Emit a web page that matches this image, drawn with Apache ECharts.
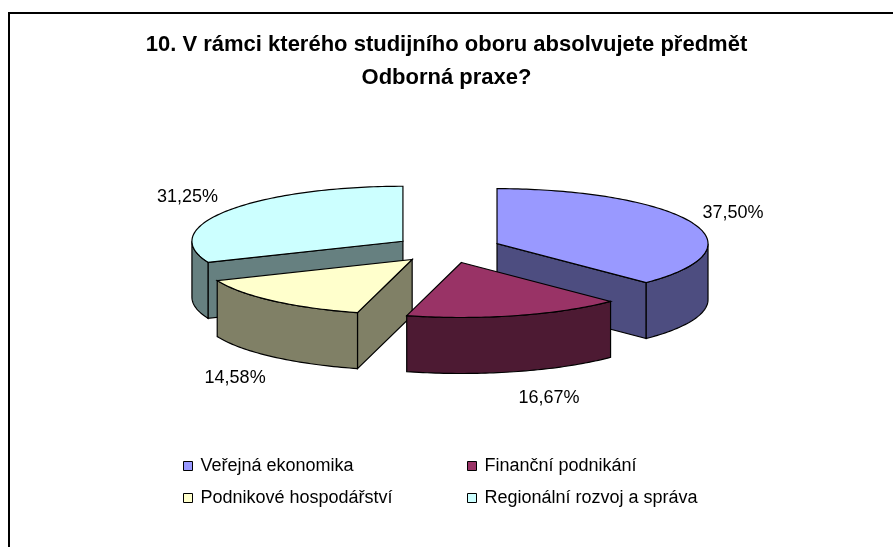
<!DOCTYPE html>
<html>
<head>
<meta charset="utf-8">
<script src="https://cdn.jsdelivr.net/npm/echarts@6.0.0/dist/echarts.min.js"></script>
<style>
html, body { margin: 0; padding: 0; background: #fff; }
#container { width: 893px; height: 547px; }
</style>
</head>
<body>
<div id="container"></div>
<script>
var categories = ['Veřejná ekonomika', 'Finanční podnikání', 'Podnikové hospodářství', 'Regionální rozvoj a správa'];
var values = [37.50, 16.67, 14.58, 31.25];
var topColors = ['#9999FF', '#993366', '#FFFFCC', '#CCFFFF'];
var sideColors = ['#4D4D80', '#4D1A33', '#808066', '#668080'];

var dom = document.getElementById('container');
var myChart = echarts.init(dom);

// 3D pie geometry (Excel style, exploded)
var cx = 447.5, cy = 249, rx = 211, ry = 55, depth = 56, explode = 0.254;
var total = values.reduce(function (a, b) { return a + b; }, 0);
var fontFamily = '"Liberation Sans", Arial, sans-serif';

function sliceAngles(i) {
    var before = 0;
    for (var k = 0; k < i; k++) before += values[k];
    var s = before / total * Math.PI * 2;
    var e = (before + values[i]) / total * Math.PI * 2;
    return [s, e, (s + e) / 2];
}

function rim(ox, oy, a, dy) {
    return [ox + rx * Math.sin(a), oy - ry * Math.cos(a) + (dy || 0)];
}

function arc(ox, oy, a0, a1, dy) {
    var pts = [];
    var n = Math.max(2, Math.ceil((a1 - a0) / 0.02));
    for (var k = 0; k <= n; k++) {
        pts.push(rim(ox, oy, a0 + (a1 - a0) * k / n, dy));
    }
    return pts;
}

function makeRender(i) {
    return function (params, api) {
        var ang = sliceAngles(i);
        var s = ang[0], e = ang[1], m = ang[2];
        var ox = cx + rx * explode * Math.sin(m);
        var oy = cy - ry * explode * Math.cos(m);
        var line = { stroke: '#000', lineWidth: 1.2 };
        var children = [];

        // radial face at start angle
        if (Math.sin(s) < -1e-6) {
            var p1 = rim(ox, oy, s);
            children.push({ type: 'polygon', shape: { points: [[ox, oy], p1, [p1[0], p1[1] + depth], [ox, oy + depth]] },
                style: echarts.util.extend({ fill: sideColors[i] }, line) });
        }
        // radial face at end angle
        if (Math.sin(e) > 1e-6) {
            var p2 = rim(ox, oy, e);
            children.push({ type: 'polygon', shape: { points: [[ox, oy], p2, [p2[0], p2[1] + depth], [ox, oy + depth]] },
                style: echarts.util.extend({ fill: sideColors[i] }, line) });
        }
        // outer curved side (front half only)
        var s2 = Math.max(s, Math.PI / 2), e2 = Math.min(e, Math.PI * 1.5);
        if (e2 > s2) {
            var up = arc(ox, oy, s2, e2, 0);
            var down = arc(ox, oy, s2, e2, depth).reverse();
            children.push({ type: 'polygon', shape: { points: up.concat(down) },
                style: echarts.util.extend({ fill: sideColors[i] }, line) });
        }
        // top face
        children.push({ type: 'polygon', shape: { points: [[ox, oy]].concat(arc(ox, oy, s, e, 0)) },
            style: echarts.util.extend({ fill: topColors[i] }, line) });

        // percentage label
        var front = Math.cos(m) < 0;
        var lp = rim(ox, oy, m, front ? depth : 0);
        var sign = Math.sin(m) >= 0 ? 1 : -1;
        children.push({
            type: 'text',
            x: lp[0] + sign * 30 + Math.sin(m) * 12,
            y: lp[1] - Math.cos(m) * 24 + (front ? 3 : 0),
            style: {
                text: api.value(0).toFixed(2).replace('.', ',') + '%',
                fill: '#000',
                font: '18px ' + fontFamily,
                align: 'center', verticalAlign: 'middle',
                textAlign: 'center', textVerticalAlign: 'middle'
            }
        });
        return { type: 'group', children: children };
    };
}

var series = categories.map(function (name, i) {
    var m = sliceAngles(i)[2];
    return {
        name: name,
        type: 'custom',
        coordinateSystem: 'none',
        z: 10 + Math.round((1 - Math.cos(m)) * 10),
        itemStyle: { color: topColors[i] },
        renderItem: makeRender(i),
        data: [values[i]]
    };
});

var legendBase = {
    orient: 'vertical',
    top: 457,
    padding: 0,
    icon: 'rect',
    itemWidth: 9,
    itemHeight: 9,
    itemGap: 14,
    itemStyle: { borderColor: '#000', borderWidth: 1 },
    textStyle: { fontFamily: fontFamily, fontSize: 18, color: '#000', padding: [0, 0, 0, 3] }
};

option = {
    animation: false,
    backgroundColor: '#fff',
    title: {
        text: '10. V rámci kterého studijního oboru absolvujete předmět\nOdborná praxe?',
        left: 'center',
        top: 23,
        textStyle: {
            fontFamily: fontFamily,
            fontWeight: 'bold',
            fontSize: 22,
            lineHeight: 33,
            color: '#000'
        }
    },
    legend: [
        echarts.util.extend({ left: 183, data: [categories[0], categories[2]] }, legendBase),
        echarts.util.extend({ left: 467, data: [categories[1], categories[3]] }, legendBase)
    ],
    graphic: [{
        type: 'polyline',
        shape: { points: [[9, 560], [9, 13], [900, 13]] },
        style: { stroke: '#000', lineWidth: 2, fill: null }
    }],
    series: series
};

if (option && typeof option === 'object') {
    myChart.setOption(option, true);
}
</script>
</body>
</html>
